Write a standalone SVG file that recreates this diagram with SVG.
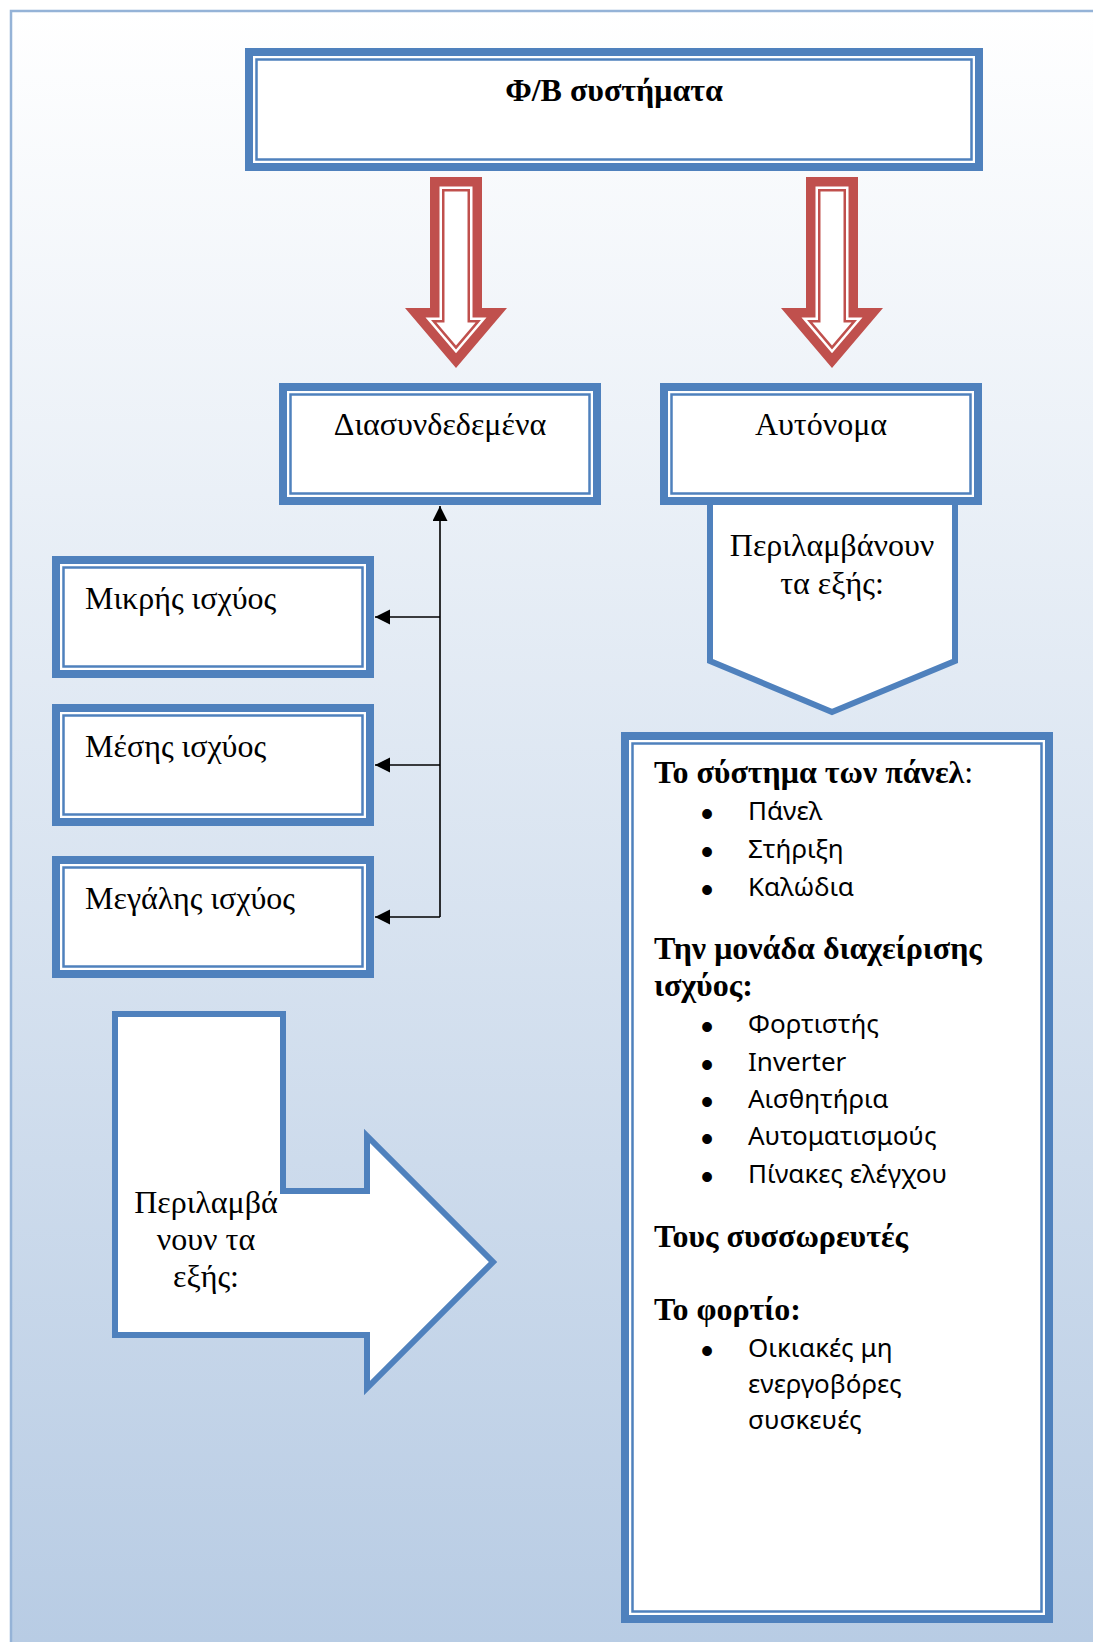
<svg xmlns="http://www.w3.org/2000/svg" width="1093" height="1642" viewBox="0 0 1093 1642">
<defs>
<linearGradient id="bg" x1="0" y1="10" x2="0" y2="1642" gradientUnits="userSpaceOnUse">
<stop offset="0" stop-color="#ffffff"/>
<stop offset="1" stop-color="#b8cce4"/>
</linearGradient>
<marker id="ah" markerUnits="userSpaceOnUse" markerWidth="16" markerHeight="16" refX="15" refY="7.5" orient="auto">
<path d="M0,0 L15,7.5 L0,15 Z" fill="#000"/>
</marker>
<g id="redArrow">
<polygon points="-26,0 26,0 26,131 51,131 0,191 -51,131 -26,131" fill="#c0504d"/>
<polygon points="-16.5,9.5 16.5,9.5 16.5,140.5 30.5,140.5 0,176.3 -30.5,140.5 -16.5,140.5" fill="#ffffff"/>
<polygon points="-14,12 14,12 14,143 25,143 0,172.5 -25,143 -14,143" fill="#c0504d"/>
<polygon points="-11.5,14.5 11.5,14.5 11.5,145.5 19.6,145.5 0,168.6 -19.6,145.5 -11.5,145.5" fill="#ffffff"/>
</g>
</defs>
<style>
.band{fill:#ffffff;stroke:#4f81bd;stroke-width:8}
.thin{fill:none;stroke:#4f81bd;stroke-width:2.5}
.shape{fill:#ffffff;stroke:#4f81bd;stroke-width:6;stroke-linejoin:miter}
.serif{font-family:"Liberation Serif","DejaVu Serif",serif;font-size:32px;fill:#000}
.bold{font-weight:bold}
.sans{font-family:"Noto Sans","Open Sans","DejaVu Sans",sans-serif;font-size:26px;fill:#000}
.bul{font-family:"Liberation Sans","DejaVu Sans",sans-serif;font-size:36px;fill:#000}
.conn{stroke:#000;stroke-width:1.6;fill:none}
</style>
<rect x="0" y="0" width="1093" height="1642" fill="#ffffff"/>
<rect x="11" y="11" width="1100" height="1650" fill="url(#bg)" stroke="#95b3d7" stroke-width="2.5"/>

<g id="node-fv">
<rect class="band" x="249" y="52" width="730" height="115"/>
<rect class="thin" x="256.5" y="59.5" width="715" height="100"/>
<text class="serif bold" x="614" y="101" text-anchor="middle" font-size="31">Φ/Β συστήματα</text>
</g>

<g id="arrow-left">
<use href="#redArrow" x="456" y="177"/>
</g>
<g id="arrow-right">
<use href="#redArrow" x="832" y="177"/>
</g>

<g id="node-diasyndedemena">
<rect class="band" x="283" y="387" width="314" height="114"/>
<rect class="thin" x="290.5" y="394.5" width="299" height="99"/>
<text class="serif" x="440" y="435" text-anchor="middle">Διασυνδεδεμένα</text>
</g>

<g id="node-perilamvanoun-right">
<path class="shape" d="M710,500 L955,500 L955,661 L832,712 L710,661 Z"/>
<text class="serif" x="832" y="556" text-anchor="middle">Περιλαμβάνουν</text>
<text class="serif" x="832" y="594" text-anchor="middle">τα εξής:</text>
</g>

<g id="node-autonoma">
<rect class="band" x="664" y="387" width="314" height="114"/>
<rect class="thin" x="671.5" y="394.5" width="299" height="99"/>
<text class="serif" x="821" y="435" text-anchor="middle">Αυτόνομα</text>
</g>

<g id="node-mikris">
<rect class="band" x="56" y="560" width="314" height="114"/>
<rect class="thin" x="63.5" y="567.5" width="299" height="99"/>
<text class="serif" x="85" y="609">Μικρής ισχύος</text>
</g>

<g id="node-mesis">
<rect class="band" x="56" y="708" width="314" height="114"/>
<rect class="thin" x="63.5" y="715.5" width="299" height="99"/>
<text class="serif" x="85" y="757">Μέσης ισχύος</text>
</g>

<g id="node-megalis">
<rect class="band" x="56" y="860" width="314" height="114"/>
<rect class="thin" x="63.5" y="867.5" width="299" height="99"/>
<text class="serif" x="85" y="909">Μεγάλης ισχύος</text>
</g>

<g id="node-perilamvanoun-left">
<path class="shape" d="M115,1014 L283,1014 L283,1191 L367,1191 L367,1136 L493,1262 L367,1388 L367,1335 L115,1335 Z"/>
<text class="serif" x="206" y="1213" text-anchor="middle">Περιλαμβά</text>
<text class="serif" x="206" y="1250" text-anchor="middle">νουν τα</text>
<text class="serif" x="206" y="1287" text-anchor="middle">εξής:</text>
</g>

<g id="node-list">
<rect class="band" x="625" y="736" width="424" height="883"/>
<rect class="thin" x="632.5" y="743.5" width="409" height="868"/>
<text class="serif" x="654" y="783"><tspan class="bold">Το σύστημα των πάνελ</tspan>:</text>
<text class="bul" x="707" y="826" text-anchor="middle">•</text><text class="sans" x="748" y="820">Πάνελ</text>
<text class="bul" x="707" y="864" text-anchor="middle">•</text><text class="sans" x="748" y="858">Στήριξη</text>
<text class="bul" x="707" y="901.5" text-anchor="middle">•</text><text class="sans" x="748" y="895.5">Καλώδια</text>
<text class="serif bold" x="654" y="959">Την μονάδα διαχείρισης</text>
<text class="serif bold" x="654" y="996">ισχύος:</text>
<text class="bul" x="707" y="1039" text-anchor="middle">•</text><text class="sans" x="748" y="1033">Φορτιστής</text>
<text class="bul" x="707" y="1076.5" text-anchor="middle">•</text><text class="sans" x="748" y="1070.5">Inverter</text>
<text class="bul" x="707" y="1114" text-anchor="middle">•</text><text class="sans" x="748" y="1108">Αισθητήρια</text>
<text class="bul" x="707" y="1151" text-anchor="middle">•</text><text class="sans" x="748" y="1145">Αυτοματισμούς</text>
<text class="bul" x="707" y="1188.5" text-anchor="middle">•</text><text class="sans" x="748" y="1182.5">Πίνακες ελέγχου</text>
<text class="serif bold" x="654" y="1247">Τους συσσωρευτές</text>
<text class="serif bold" x="654" y="1320">Το φορτίο:</text>
<text class="bul" x="707" y="1363" text-anchor="middle">•</text><text class="sans" x="748" y="1357">Οικιακές μη</text>
<text class="sans" x="748" y="1393">ενεργοβόρες</text>
<text class="sans" x="748" y="1429">συσκευές</text>
</g>

<g id="connectors">
<path class="conn" d="M440,917 L440,506" marker-end="url(#ah)"/>
<path class="conn" d="M440,617 L375,617" marker-end="url(#ah)"/>
<path class="conn" d="M440,765 L375,765" marker-end="url(#ah)"/>
<path class="conn" d="M440,917 L375,917" marker-end="url(#ah)"/>
</g>
</svg>
